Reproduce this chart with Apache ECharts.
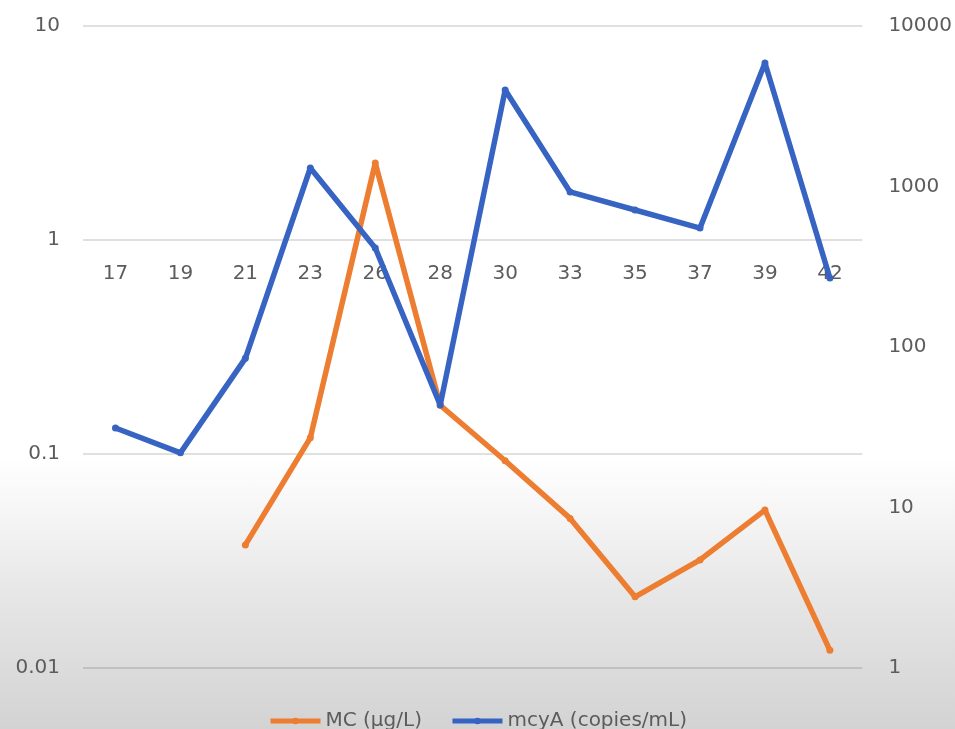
<!DOCTYPE html>
<html>
<head>
<meta charset="utf-8">
<script src="https://cdn.jsdelivr.net/npm/echarts@6/dist/echarts.min.js"></script>
<style>
  html, body { margin: 0; padding: 0; }
  #chart {
    width: 955px; height: 729px;
    background: linear-gradient(to bottom, #ffffff 0%, #ffffff 63%, #e6e6e6 82%, #d3d3d3 100%);
  }
</style>
</head>
<body>
<div id="chart"></div>
<script>
// Sampling days
const days = ['17', '19', '21', '23', '26', '28', '30', '33', '35', '37', '39', '42'];
// Microcystin concentration (µg/L), left log axis
const mcValues = [null, null, 0.0376, 0.119, 2.29, 0.169, 0.093, 0.050, 0.0215, 0.032, 0.0547, 0.0121];
// mcyA gene copies (copies/mL), right log axis
const mcyAValues = [31.3, 21.9, 85, 1304, 414, 43.5, 3990, 925, 714, 551, 5880, 269];

const labelFont = { fontFamily: 'DejaVu Sans', fontSize: 20, color: '#5c5c5c' };
const plainNumber = v => String(+v.toPrecision(6));

const chart = echarts.init(document.getElementById('chart'), null, { renderer: 'canvas' });
chart.setOption({
  backgroundColor: 'transparent',
  animation: false,
  textStyle: { fontFamily: 'DejaVu Sans' },
  grid: { left: 83, right: 92, top: 26, bottom: 61, containLabel: false },
  legend: {
    top: 706,
    left: 'center',
    itemWidth: 50,
    itemHeight: 8,
    itemGap: 28,
    textStyle: labelFont,
    lineStyle: { width: 5 },
    data: ['MC (µg/L)', 'mcyA (copies/mL)']
  },
  xAxis: {
    type: 'category',
    data: days,
    boundaryGap: true,
    position: 'bottom',
    offset: -428,
    axisLine: { show: false, onZero: false },
    axisTick: { show: false },
    axisLabel: Object.assign({ margin: 24, interval: 0 }, labelFont),
    splitLine: { show: false }
  },
  yAxis: [
    {
      type: 'log',
      logBase: 10,
      min: 0.01,
      max: 10,
      position: 'left',
      axisLine: { show: false },
      axisTick: { show: false },
      axisLabel: Object.assign({ margin: 23, formatter: plainNumber }, labelFont),
      splitLine: { show: true, lineStyle: { color: 'rgba(0,0,0,0.12)', width: 2 } }
    },
    {
      type: 'log',
      logBase: 10,
      min: 1,
      max: 10000,
      position: 'right',
      axisLine: { show: false },
      axisTick: { show: false },
      axisLabel: Object.assign({ margin: 26, formatter: plainNumber }, labelFont),
      splitLine: { show: false }
    }
  ],
  series: [
    {
      name: 'MC (µg/L)',
      type: 'line',
      yAxisIndex: 0,
      data: mcValues,
      connectNulls: false,
      symbol: 'circle',
      symbolSize: 7,
      lineStyle: { color: '#ED7D31', width: 5.5 },
      itemStyle: { color: '#ED7D31' },
      z: 2
    },
    {
      name: 'mcyA (copies/mL)',
      type: 'line',
      yAxisIndex: 1,
      data: mcyAValues,
      symbol: 'circle',
      symbolSize: 7,
      lineStyle: { color: '#3764C2', width: 5.5 },
      itemStyle: { color: '#3764C2' },
      z: 3
    }
  ]
});
</script>
</body>
</html>
